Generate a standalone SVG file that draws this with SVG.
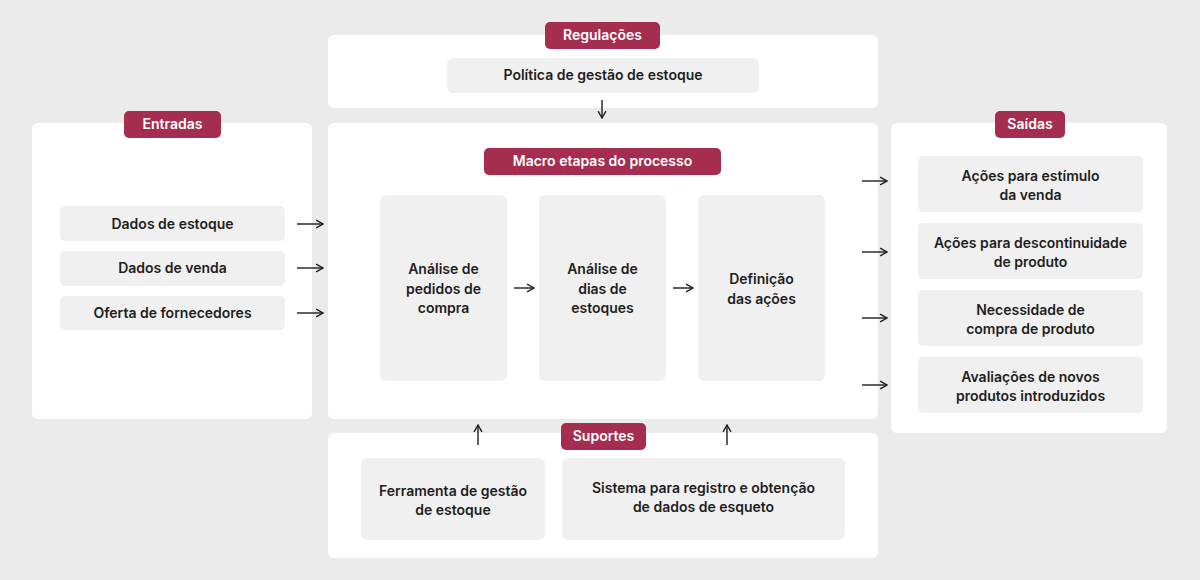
<svg xmlns="http://www.w3.org/2000/svg" width="1200" height="580" viewBox="0 0 1200 580">
<style>
.panel{fill:#fff}
.box{fill:#f0f0f0}
.badge{fill:#a52e50}
.bt{font-family:Inter,"Liberation Sans",sans-serif;font-size:14px;font-weight:600;fill:#fff;text-anchor:middle}
.t{font-family:Inter,"Liberation Sans",sans-serif;font-size:14px;font-weight:600;fill:#1e1e1e;text-anchor:middle}
.c{stroke:#1e1e1e;stroke-width:1.4;fill:none}
</style>
<defs><marker id="a" viewBox="0 0 10 10" refX="9" refY="5" markerWidth="7" markerHeight="7" orient="auto"><path d="M2 1L9 5L2 9" fill="none" stroke="#1e1e1e" stroke-width="1.4"/></marker></defs>
<rect width="1200" height="580" fill="#ebebeb"/>
<g id="regulacoes">
<rect class="panel" x="328" y="35" width="550" height="73" rx="6"/>
<rect class="badge" x="545" y="22" width="115" height="27" rx="5"/><text class="bt" x="602.5" y="40">Regulações</text>
<rect class="box" x="447" y="58" width="312" height="35" rx="6"/><text class="t" x="603" y="80">Política de gestão de estoque</text>
</g>
<g id="entradas">
<rect class="panel" x="32" y="123" width="280" height="296" rx="6"/>
<rect class="badge" x="124" y="111" width="97" height="27" rx="5"/><text class="bt" x="172.5" y="129">Entradas</text>
<rect class="box" x="60" y="206" width="225" height="35" rx="5"/><text class="t" x="172.5" y="229">Dados de estoque</text>
<rect class="box" x="60" y="251" width="225" height="35" rx="5"/><text class="t" x="172.5" y="273">Dados de venda</text>
<rect class="box" x="60" y="296" width="225" height="34" rx="5"/><text class="t" x="172.5" y="318">Oferta de fornecedores</text>
</g>
<g id="macro">
<rect class="panel" x="328" y="123" width="550" height="296" rx="6"/>
<rect class="badge" x="484" y="148" width="237" height="27" rx="5"/><text class="bt" x="602.5" y="166">Macro etapas do processo</text>
<rect class="box" x="380" y="195" width="127" height="186" rx="6"/><text class="t" x="443.5" y="274">Análise de<tspan x="443.5" dy="19.5">pedidos de</tspan><tspan x="443.5" dy="19.5">compra</tspan></text>
<rect class="box" x="539" y="195" width="127" height="186" rx="6"/><text class="t" x="602.5" y="274">Análise de<tspan x="602.5" dy="19.5">dias de</tspan><tspan x="602.5" dy="19.5">estoques</tspan></text>
<rect class="box" x="698" y="195" width="127" height="186" rx="6"/><text class="t" x="761.5" y="284">Definição<tspan x="761.5" dy="19.5">das ações</tspan></text>
</g>
<g id="saidas">
<rect class="panel" x="891" y="123" width="276" height="310" rx="6"/>
<rect class="badge" x="995" y="111" width="70" height="27" rx="5"/><text class="bt" x="1030" y="129">Saídas</text>
<rect class="box" x="918" y="156" width="225" height="56" rx="5"/><text class="t" x="1030.5" y="181">Ações para estímulo<tspan x="1030.5" dy="19">da venda</tspan></text>
<rect class="box" x="918" y="223" width="225" height="56" rx="5"/><text class="t" x="1030.5" y="248">Ações para descontinuidade<tspan x="1030.5" dy="19">de produto</tspan></text>
<rect class="box" x="918" y="290" width="225" height="56" rx="5"/><text class="t" x="1030.5" y="315">Necessidade de<tspan x="1030.5" dy="19">compra de produto</tspan></text>
<rect class="box" x="918" y="357" width="225" height="56" rx="5"/><text class="t" x="1030.5" y="382">Avaliações de novos<tspan x="1030.5" dy="19">produtos introduzidos</tspan></text>
</g>
<g id="suportes">
<rect class="panel" x="328" y="433" width="550" height="125" rx="6"/>
<rect class="badge" x="561" y="423" width="85" height="27" rx="5"/><text class="bt" x="603.5" y="441">Suportes</text>
<rect class="box" x="361" y="458" width="184" height="82" rx="6"/><text class="t" x="453" y="496">Ferramenta de gestão<tspan x="453" dy="19">de estoque</tspan></text>
<rect class="box" x="562" y="458" width="283" height="82" rx="6"/><text class="t" x="703.5" y="493">Sistema para registro e obtenção<tspan x="703.5" dy="19">de dados de esqueto</tspan></text>
</g>
<g id="connectors">
<path class="c" marker-end="url(#a)" d="M602 100V118"/>
<path class="c" marker-end="url(#a)" d="M297 224H323"/>
<path class="c" marker-end="url(#a)" d="M297 268H323"/>
<path class="c" marker-end="url(#a)" d="M297 313H323"/>
<path class="c" marker-end="url(#a)" d="M514 288H534"/>
<path class="c" marker-end="url(#a)" d="M673 288H693"/>
<path class="c" marker-end="url(#a)" d="M862 181H887"/>
<path class="c" marker-end="url(#a)" d="M862 252H887"/>
<path class="c" marker-end="url(#a)" d="M862 318H887"/>
<path class="c" marker-end="url(#a)" d="M862 385H887"/>
<path class="c" marker-end="url(#a)" d="M478 445V425"/>
<path class="c" marker-end="url(#a)" d="M727 445V425"/>
</g>
</svg>
